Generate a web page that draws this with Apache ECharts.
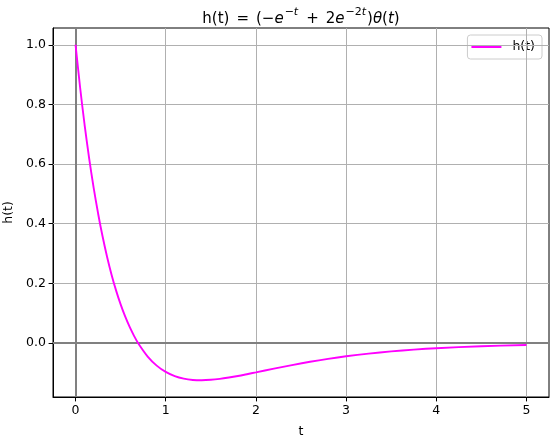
<!DOCTYPE html>
<html><head><meta charset="utf-8">
<script src="https://cdn.jsdelivr.net/npm/echarts@6/dist/echarts.min.js"></script>
<style>html,body{margin:0;padding:0;background:#fff}#c{width:555px;height:441px}</style>
</head><body><div id="c"></div>
<script>
const tValues = [0,0.05,0.1,0.15,0.2,0.25,0.3,0.35,0.4,0.45,0.5,0.55,0.6,0.65,0.7,0.8,0.9,1.0,1.1,1.2,1.3,1.4,1.5,1.6,1.7,1.8,1.9,2.0,2.2,2.4,2.6,2.8,3.0,3.25,3.5,3.75,4.0,4.5,5.0];
const hValues = [1.0,0.8584,0.7326,0.6209,0.5219,0.4343,0.3568,0.2885,0.2283,0.1755,0.1292,0.0888,0.0536,0.0230,-0.0034,-0.0455,-0.0760,-0.0972,-0.1113,-0.1198,-0.1240,-0.1250,-0.1236,-0.1204,-0.1159,-0.1107,-0.1048,-0.0987,-0.0863,-0.0743,-0.0632,-0.0534,-0.0448,-0.0358,-0.0284,-0.0224,-0.0177,-0.0109,-0.0067];
const xTicks = [0,1,2,3,4,5];
const yTicks = [0.0,0.2,0.4,0.6,0.8,1.0];
const xRange = [-0.25, 5.25];
const yRange = [-0.18125, 1.05625];

const font = 'DejaVu Sans';
const fs = 12.5;
const chart = echarts.init(document.getElementById('c'));
const gridLines = [];
xTicks.forEach(v => gridLines.push({xAxis: v}));
yTicks.forEach(v => gridLines.push({yAxis: v}));

const base = {fontFamily: font, fontSize: 15, color: '#000', verticalAlign: 'bottom', lineHeight: 20};
const sup = {fontFamily: font, fontSize: 11, color: '#000', verticalAlign: 'top', lineHeight: 12};

chart.setOption({
  animation: false,
  title: {
    text: '{n|h(t)}{op|=}{n|(}{n|−}{i|e}{s|−}{si|t}{op|+}{n|2}{i|e}{s|−2}{si|t}{n|)}{i|θ}{n|(}{i|t}{n|)}',
    left: 296, top: 2, textAlign: 'center',
    textStyle: {
      fontFamily: font, fontSize: 15, fontWeight: 'normal', color: '#000',
      rich: {
        n: base,
        op: Object.assign({}, base, {padding: [0, 7, 0, 7]}),
        i: Object.assign({}, base, {fontStyle: 'italic'}),
        s: Object.assign({}, sup, {padding: [0, 0, 0, 1]}),
        si: Object.assign({}, sup, {fontStyle: 'italic', padding: [0, 1, 0, 0]})
      }
    }
  },
  legend: {
    right: 13, top: 35,
    data: [{name: 'h(t)', icon: 'rect'}],
    itemWidth: 30, itemHeight: 2,
    padding: [5, 7, 5, 4],
    borderColor: '#cccccc', borderWidth: 1, borderRadius: 3,
    backgroundColor: 'rgba(255,255,255,0.8)',
    textStyle: {fontFamily: font, fontSize: fs, color: '#000', padding: [0, 0, 0, 6], lineHeight: 14}
  },
  grid: {left: 53, right: 6, top: 28, bottom: 44, outerBoundsMode: 'none', containLabel: false, show: true, borderColor: '#000', borderWidth: 1, backgroundColor: 'transparent'},
  xAxis: {
    type: 'value', min: xRange[0], max: xRange[1],
    name: 't', nameLocation: 'middle', nameGap: 28,
    nameTextStyle: {fontFamily: font, fontSize: fs, color: '#000'},
    axisLine: {show: true, onZero: false, lineStyle: {color: '#000', width: 1}},
    axisTick: {show: true, length: 4.4, customValues: xTicks, lineStyle: {color: '#000', width: 1}},
    axisLabel: {customValues: xTicks, fontFamily: font, fontSize: fs, color: '#000', margin: 7, formatter: v => String(Math.round(v))},
    splitLine: {show: false}
  },
  yAxis: {
    type: 'value', min: yRange[0], max: yRange[1],
    name: 'h(t)', nameLocation: 'middle', nameGap: 37, nameRotate: 90,
    nameTextStyle: {fontFamily: font, fontSize: fs, color: '#000'},
    axisLine: {show: true, onZero: false, lineStyle: {color: '#000', width: 1}},
    axisTick: {show: true, length: 4.4, customValues: yTicks, lineStyle: {color: '#000', width: 1}},
    axisLabel: {customValues: yTicks, fontFamily: font, fontSize: fs, color: '#000', margin: 7, formatter: v => v.toFixed(1)},
    splitLine: {show: false}
  },
  series: [
    {
      type: 'line', name: '_grid', data: [], silent: true,
      markLine: {
        silent: true, symbol: 'none', animation: false,
        label: {show: false},
        lineStyle: {color: '#b0b0b0', width: 1, type: 'solid'},
        emphasis: {disabled: true},
        data: gridLines
      }
    },
    {
      type: 'line', name: '_axes', data: [], silent: true,
      markLine: {
        silent: true, symbol: 'none', animation: false,
        label: {show: false},
        lineStyle: {color: '#808080', width: 2, type: 'solid'},
        emphasis: {disabled: true},
        data: [{xAxis: 0}, {yAxis: 0}]
      }
    },
    {
      type: 'line', name: 'h(t)', symbol: 'none', smooth: 0.3,
      data: tValues.map((t, i) => [t, hValues[i]]),
      lineStyle: {color: '#ff00ff', width: 1.9},
      itemStyle: {color: '#ff00ff'},
      z: 5
    }
  ]
});
</script></body></html>
